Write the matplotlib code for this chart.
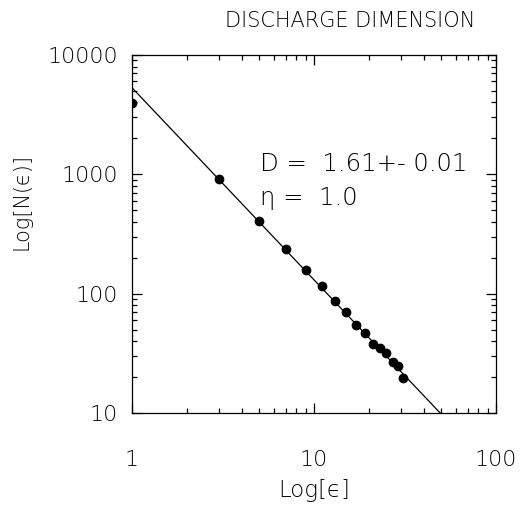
import matplotlib
matplotlib.use("Agg")
import matplotlib.pyplot as plt
import numpy as np

# box size (epsilon) and box counts N(epsilon)
eps = [1, 3, 5, 7, 9, 11, 13, 15, 17, 19, 21, 23, 25, 27, 29, 31]
counts = [3960, 915, 408, 237, 157, 116, 86, 70, 55, 47, 38, 35, 32, 27, 25, 19.7]

# power-law fit N = A * eps^-D
fit_amp = 5320.0
fit_dim = 1.61
fit_err = 0.01
eta = 1.0

plt.rcParams["font.family"] = ["DejaVu Sans"]
plt.rcParams["font.weight"] = "light"
plt.rcParams["axes.labelweight"] = "light"

fig = plt.figure(figsize=(5.21, 5.08), dpi=100)
ax = fig.add_axes([132 / 521, 1 - 413 / 508, 364 / 521, 358 / 508])

ax.plot(eps, counts, "o", color="black", ms=6, clip_on=True)
xf = np.array([1.0, 100.0])
ax.plot(xf, fit_amp * xf ** (-fit_dim), color="black", lw=0.9)

ax.set_xscale("log")
ax.set_yscale("log")
ax.set_xlim(1, 100)
ax.set_ylim(10, 10000)

ax.set_xticks([1, 10, 100])
ax.set_xticklabels(["1", "10", "100"])
ax.set_yticks([10, 100, 1000, 10000])
ax.set_yticklabels(["10", "100", "1000", "10000"])
ax.tick_params(which="both", direction="in", top=True, right=True,
               labelsize=16, width=0.9, colors="black")
ax.tick_params(which="major", length=7.5)
ax.tick_params(which="minor", length=3.5)
ax.tick_params(axis="x", which="major", pad=27)
ax.tick_params(axis="y", which="major", pad=10)
for s in ax.spines.values():
    s.set_linewidth(0.9)

ax.set_xlabel("Log[\u03f5]", fontsize=16.5, labelpad=6)
ax.set_ylabel("Log[N(\u03f5)]", fontsize=15)
ax.yaxis.set_label_coords((31 - 132) / 364, (413 - 202) / 358)

fig.text(350 / 521, 1 - 21 / 508, "DISCHARGE DIMENSION", fontsize=15,
         ha="center", va="center")
ax.text((260 - 132) / 364, (413 - 164) / 358, f"D =  {fit_dim:.2f}+- {fit_err:.2f}",
        fontsize=17.5, transform=ax.transAxes, va="center")
ax.text((260 - 132) / 364, (413 - 198) / 358, f"\u03b7 =  {eta:.1f}",
        fontsize=17.5, transform=ax.transAxes, va="center")

fig.savefig("out.png", dpi=100)
